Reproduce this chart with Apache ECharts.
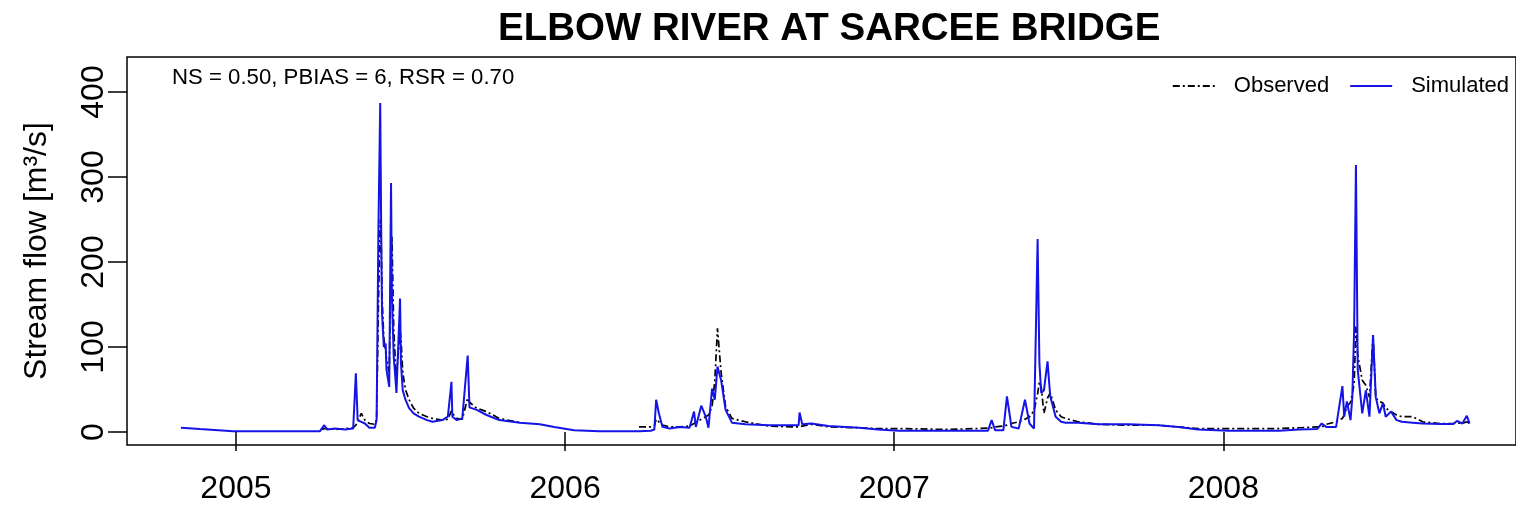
<!DOCTYPE html>
<html><head><meta charset="utf-8">
<script src="https://cdn.jsdelivr.net/npm/echarts@6/dist/echarts.min.js"></script>
<style>html,body{margin:0;padding:0;background:#fff}#c{width:1516px;height:506px}</style>
</head><body><div id="c"></div>
<script>
const dates = ['2004-11-01','2004-11-22','2004-12-29','2005-02-15','2005-04-04','2005-04-06','2005-04-09','2005-04-12','2005-04-21','2005-05-02','2005-05-11','2005-05-14','2005-05-16','2005-05-20','2005-05-24','2005-05-29','2005-06-04','2005-06-06','2005-06-08','2005-06-10','2005-06-11','2005-06-12','2005-06-14','2005-06-16','2005-06-17','2005-06-20','2005-06-22','2005-06-23','2005-06-25','2005-06-27','2005-06-28','2005-07-02','2005-07-03','2005-07-05','2005-07-08','2005-07-12','2005-07-17','2005-07-23','2005-08-01','2005-08-07','2005-08-18','2005-08-24','2005-08-28','2005-08-29','2005-09-03','2005-09-09','2005-09-15','2005-09-17','2005-09-25','2005-10-06','2005-10-20','2005-11-12','2005-12-04','2005-12-20','2006-01-11','2006-02-08','2006-03-24','2006-04-06','2006-04-10','2006-04-12','2006-04-15','2006-04-19','2006-04-27','2006-05-08','2006-05-19','2006-05-24','2006-05-26','2006-06-01','2006-06-06','2006-06-09','2006-06-13','2006-06-16','2006-06-19','2006-06-23','2006-06-28','2006-07-05','2006-07-20','2006-08-15','2006-09-09','2006-09-17','2006-09-18','2006-09-21','2006-10-01','2006-10-20','2006-11-23','2006-12-14','2007-01-06','2007-03-02','2007-04-15','2007-04-19','2007-04-23','2007-05-02','2007-05-06','2007-05-11','2007-05-19','2007-05-26','2007-05-31','2007-06-05','2007-06-09','2007-06-11','2007-06-13','2007-06-16','2007-06-20','2007-06-23','2007-06-29','2007-07-05','2007-07-10','2007-07-24','2007-08-16','2007-09-18','2007-10-21','2007-11-12','2007-12-04','2008-01-07','2008-03-03','2008-03-25','2008-04-14','2008-04-19','2008-04-24','2008-05-05','2008-05-12','2008-05-14','2008-05-17','2008-05-21','2008-05-23','2008-05-25','2008-05-27','2008-05-29','2008-06-03','2008-06-07','2008-06-11','2008-06-15','2008-06-18','2008-06-22','2008-06-26','2008-06-29','2008-07-05','2008-07-11','2008-07-17','2008-07-29','2008-08-09','2008-08-28','2008-09-12','2008-09-16','2008-09-22','2008-09-27','2008-09-30'];
const simulated = [5,3.5,1,0.8,0.8,1,8,3,4,3,4,69,14,12,10,5,5,14,238,387,249,140,100,104,73,53,293,159,88,61,46,157,81,49,38,28,22,18,14,12,14,18,59,18,14,16,90,29,26,20,14,11,9,6,2,1,1,1.5,3,38,22,6,4,6,5,24,6,31,18,5,51,38,77,61,26,11,9,8,8,8,23,9,10,7,5,3,1.5,1.5,1.6,14,2,2,42,6,4,38,10,4,227,81,46,49,83,42,18,12,11,11,9,9,8,6,3,1.5,1.5,3,3.5,10,6,6,54,18,36,14,41,120,314,73,22,49,18,114,41,22,34,18,24,14,12,11,10,9.5,9.5,13,10,19,10];
const observed = [null,null,null,null,null,3,4,4,3,4,5,8,12,22,14,10,9,15,150,250,230,160,110,95,85,70,200,230,120,80,65,120,110,70,50,38,28,22,18,16,14,15,25,22,16,15,40,35,28,24,16,11,null,null,null,null,6,6,7,15,12,8,6,6,7,10,12,15,18,20,30,60,122,70,30,16,12,7,6,6,8,7,9,6,5,4,4,3,4.5,5,6,7,8,10,12,15,18,25,45,59,53,22,40,46,26,18,16,12,9,8,8,6,4,4,4,5,6,6,9,12,16,20,30,35,45,57,124,90,61,55,41,114,40,36,34,28,24,20,18,18,12,10,10,11,10,12,10];
const yTicks = [0, 100, 200, 300, 400];
const yearTicks = ['2005-01-01', '2006-01-01', '2007-01-01', '2008-01-01'];
const seriesNames = ['Observed', 'Simulated'];

const FONT = 'Liberation Sans, Arial, sans-serif';
const DAY = 86400000;
const ts = d => Date.parse(d + 'T00:00:00Z');
const yearTs = yearTicks.map(ts);
const chart = echarts.init(document.getElementById('c'), null, {renderer: 'canvas'});
chart.setOption({
  animation: false,
  backgroundColor: '#fff',
  title: {
    text: 'ELBOW RIVER AT SARCEE BRIDGE',
    left: 493, top: 5,
    textStyle: {fontFamily: FONT, fontSize: 38.5, fontWeight: 'bold', color: '#000'}
  },
  graphic: [{
    type: 'text', x: 172, y: 78,
    style: {text: 'NS = 0.50, PBIAS = 6, RSR = 0.70', fontFamily: FONT, fontSize: 22.2, fill: '#000', verticalAlign: 'middle'}
  }],
  legend: {
    data: seriesNames,
    right: 2, top: 70,
    itemWidth: 42, itemHeight: 12, itemGap: 20,
    itemStyle: {opacity: 0, borderWidth: 0},
    textStyle: {fontFamily: FONT, fontSize: 22, color: '#000', padding: [0, 0, 0, 14]}
  },
  grid: {
    left: 127, top: 57, width: 1392, bottom: 61,
    show: true, borderColor: '#000', borderWidth: 1.5, backgroundColor: 'transparent'
  },
  xAxis: {
    type: 'value',
    min: ts('2005-01-01') - 120.8 * DAY,
    max: ts('2005-01-01') + 1419.5 * DAY,
    axisLine: {show: false},
    splitLine: {show: false},
    axisTick: {show: true, length: 19, inside: false, customValues: yearTs, lineStyle: {color: '#000', width: 1.5}},
    axisLabel: {
      customValues: yearTs, margin: 28, fontFamily: FONT, fontSize: 32, color: '#000',
      formatter: v => String(new Date(v).getUTCFullYear())
    }
  },
  yAxis: {
    type: 'value', min: -15.3, max: 441.2,
    name: 'Stream flow [m³/s]', nameLocation: 'middle', nameGap: 74,
    nameTextStyle: {fontFamily: FONT, fontSize: 32, color: '#000'},
    axisLine: {show: false},
    splitLine: {show: false},
    axisTick: {show: true, length: 19, inside: false, customValues: yTicks, lineStyle: {color: '#000', width: 1.5}},
    axisLabel: {customValues: yTicks, rotate: 90, margin: 17, fontFamily: FONT, fontSize: 32, color: '#000'}
  },
  series: [
    {
      name: 'Observed', type: 'line', symbol: 'none', z: 2,
      data: dates.map((d, i) => [ts(d), observed[i]]),
      lineStyle: {color: '#000', width: 1.7, type: [7, 3, 2, 3]},
      itemStyle: {color: '#000'}
    },
    {
      name: 'Simulated', type: 'line', symbol: 'none', z: 3,
      data: dates.map((d, i) => [ts(d), simulated[i]]),
      lineStyle: {color: '#1414e6', width: 2},
      itemStyle: {color: '#1414e6'}
    }
  ]
});
</script>
</body></html>
